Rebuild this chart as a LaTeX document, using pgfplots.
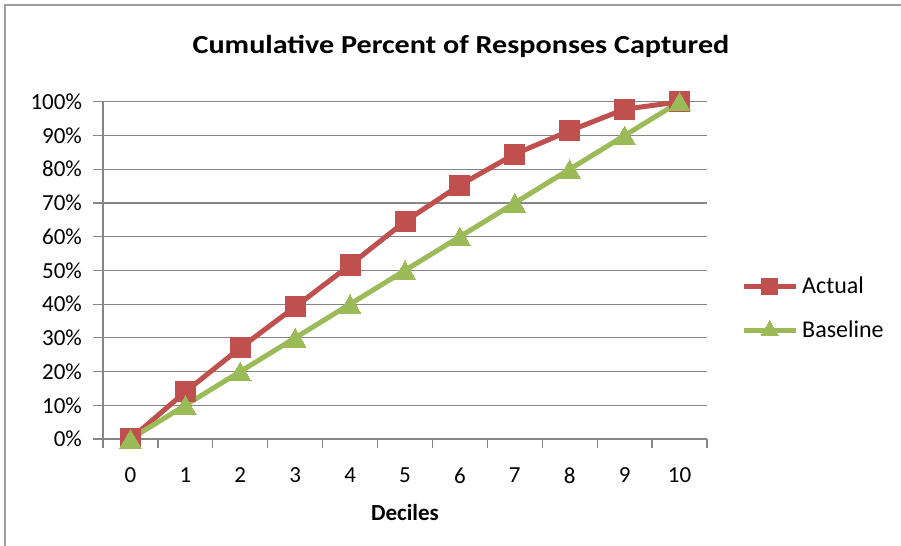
\documentclass[border=0pt]{standalone}
\usepackage{pgfplots}
\pgfplotsset{compat=1.18}
\usepackage{fontspec}
\setmainfont{Carlito}

\definecolor{actualred}{HTML}{C0504D}
\definecolor{basegreen}{HTML}{9BBB59}
\definecolor{gridgray}{HTML}{868686}

\begin{document}
\begin{tikzpicture}
  % canvas: 1 px of the reference = 0.5pt
  \useasboundingbox (0,0) rectangle (450.5pt,273pt);
  \draw[gridgray!80, line width=0.6pt] (2.5pt,0) -- (2.5pt,270.5pt) -- (450.5pt,270.5pt);

  \node at (230.5pt,250pt)
    {\scalebox{1.16}[1]{\fontsize{13}{15}\selectfont\bfseries Cumulative Percent of Responses Captured}};

  \begin{axis}[
    at={(51.5pt,53.5pt)}, anchor=south west,
    scale only axis,
    width=302pt, height=168.6pt,
    xmin=-0.5, xmax=10.5,
    ymin=0, ymax=100,
    axis x line*=bottom,
    axis y line*=left,
    axis line style={gridgray, line width=0.6pt, -},
    tick align=outside,
    xtick={0,...,10},
    minor xtick={-0.5,0.5,...,10.5},
    major x tick style={draw=none},
    minor x tick style={gridgray, line width=0.6pt},
    minor tick length=4.5pt,
    ytick={0,10,...,100},
    major y tick style={gridgray, line width=0.6pt},
    major tick length=5pt,
    ymajorgrids,
    major grid style={gridgray, line width=0.6pt},
    /pgf/number format/assume math mode=true,
    yticklabel={\pgfmathprintnumber{\tick}\%},
    ticklabel style={font=\fontsize{11.5}{13}\selectfont},
    xticklabel style={yshift=-6pt},
    yticklabel style={xshift=-2pt},
    xlabel={Deciles},
    xlabel style={font=\fontsize{11.5}{13}\selectfont\bfseries,
      at={(axis description cs:0.5,0)}, anchor=center, yshift=-37pt},
    legend style={at={(1.056,0.387)}, anchor=west, draw=none, fill=none,
      inner sep=0pt, row sep=8pt,
      font=\fontsize{12}{14}\selectfont},
    legend cell align=left,
    legend image code/.code={%
      \draw[#1, mark repeat=2, mark phase=2]
        plot coordinates {(0pt,0pt) (13pt,0pt) (26pt,0pt)};},
    legend image post style={mark options={scale=0.8, line width=0pt}},
  ]
    \addplot[actualred, line width=2.5pt, mark=square*, mark size=5pt,
      mark options={line width=0pt}]
      coordinates {(0,0) (1,14) (2,27) (3,39.2) (4,51.6) (5,64.5)
                   (6,75.3) (7,84.5) (8,91.4) (9,97.8) (10,100)};
    \addplot[basegreen, line width=2.5pt, mark=triangle*, mark size=6.2pt,
      mark options={line width=0pt, yshift=-1.5pt}]
      coordinates {(0,0) (1,10) (2,20) (3,30) (4,40) (5,50)
                   (6,60) (7,70) (8,80) (9,90) (10,100)};
    \legend{Actual, Baseline}
  \end{axis}
\end{tikzpicture}
\end{document}
